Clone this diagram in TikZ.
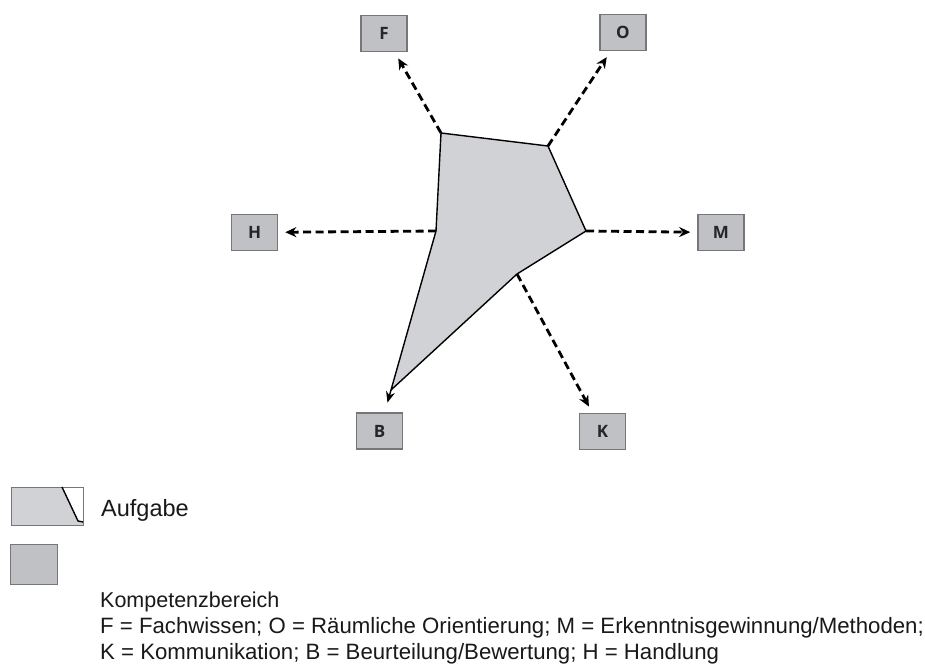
\documentclass[tikz,border=0pt]{standalone}
\usepackage{fontspec}
\setmainfont{Liberation Sans}
\newfontfamily\boxfont{Open Sans}
\usetikzlibrary{arrows.meta}
\definecolor{boxfill}{RGB}{192,193,197}
\definecolor{boxline}{RGB}{118,118,120}
\definecolor{polyfill}{RGB}{208,210,213}
\definecolor{txt}{RGB}{25,25,25}
\begin{document}
\begin{tikzpicture}[x=1pt,y=-1pt,
  kbox/.style={draw=boxline, line width=1.6pt, fill=boxfill, minimum width=46pt, minimum height=36pt, inner sep=0pt, font=\boxfont\bfseries\fontsize{17}{17}\selectfont, text=black!85},
  darr/.style={dash pattern=on 8pt off 4.5pt, line width=2.8pt, -{Stealth[length=11pt,width=10pt]}, shorten >=7pt},
  legtext/.style={anchor=base west, inner sep=0pt, text=txt, font=\fontsize{22.2}{26}\selectfont}]
\useasboundingbox[fill=white] (0,0) rectangle (925,666);

% competence boxes
\node[kbox] (F) at (384,33.5) {F};
\node[kbox] (O) at (623,32.5) {O};
\node[kbox] (M) at (721,232.5) {M};
\node[kbox] (H) at (254.5,232.5) {H};
\node[kbox] (B) at (379.5,431) {B};
\node[kbox] (K) at (602.5,431.5) {K};

% task polygon vertices
\coordinate (vF) at (441,133);
\coordinate (vO) at (548,146);
\coordinate (vM) at (586,231);
\coordinate (vK) at (517,274);
\coordinate (vB) at (391,390);
\coordinate (vH) at (436,231);

\draw[fill=polyfill, line width=1.4pt, line join=round] (vF) -- (vO) -- (vM) -- (vK) -- (vB) -- (vH) -- cycle;

% dashed arrows
\draw[darr] (vF) -- (F);
\draw[darr] (vO) -- (O);
\draw[darr] (vM) -- (M);
\draw[darr] (vH) -- (H);
\draw[darr] (vK) -- (K);
\draw[line width=1.4pt, -{Stealth[length=11pt,width=9pt]}, shorten >=10pt] (vB) -- (B);

% legend: Aufgabe
\fill[polyfill] (11,487) -- (62,487) -- (78,521) -- (83,522) -- (83,525) -- (11,525) -- cycle;
\draw[boxline, line width=1pt] (11,487) rectangle (83,525);
\draw[black, line width=1.4pt, line join=round] (62,487) -- (78,521) -- (83,522);
\node[legtext, font=\fontsize{23.5}{26}\selectfont] (aufg) at (101,516) {Aufgabe};

% legend: Kompetenzbereich
\node[draw=boxline, line width=1pt, fill=boxfill, minimum width=47pt, minimum height=40pt, inner sep=0pt] (kb) at (33.5,564) {};
\node[legtext, font=\fontsize{21.5}{26}\selectfont] (kbt) at (100,607) {Kompetenzbereich};
\node[legtext] (l1) at (100,633) {F = Fachwissen; O = Räumliche Orientierung; M = Erkenntnisgewinnung/Methoden;};
\node[legtext] (l2) at (100,659) {K = Kommunikation; B = Beurteilung/Bewertung; H = Handlung};
\end{tikzpicture}
\end{document}
